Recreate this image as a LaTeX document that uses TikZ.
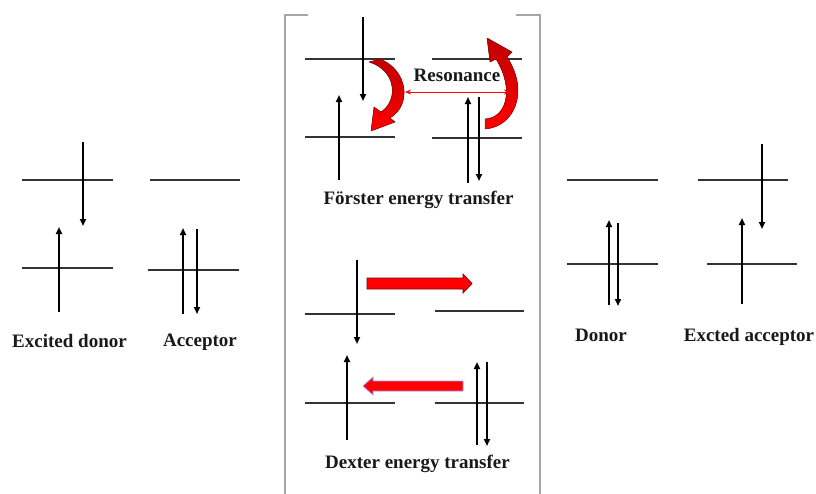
\documentclass[tikz,border=0pt]{standalone}
\usepackage{fontspec}
\setmainfont{Liberation Serif}
\usetikzlibrary{arrows.meta}
\begin{document}
\begin{tikzpicture}[x=1pt,y=-1pt,
  level/.style={line width=1.8pt,draw=black!80},
  elec/.style={line width=1.8pt,draw=black,-{Triangle[length=7pt,width=6pt]}},
  lbl/.style={font=\fontsize{19}{22}\selectfont\bfseries,anchor=base,inner sep=0pt,text=black!90},
  frame/.style={line width=2pt,draw=black!35},
  curvy/.style={top color=red!75!black,bottom color=red,draw=red!55!black,line width=0.4pt},
  blockarrow/.style={fill=red,line width=0.7pt,line join=miter}]
\useasboundingbox (0,0) rectangle (816,493);

% frame of the middle panel
\draw[frame] (308,15) -- (285,15) -- (285,495);
\draw[frame] (516,15) -- (540,15) -- (540,495);

% ---- Excited donor
\draw[level] (22,180) -- (113,180);
\draw[level] (22,268) -- (113,268);
\draw[elec] (83,142) -- (83,226);
\draw[elec] (59,312) -- (59,227);
% ---- Acceptor
\draw[level] (150,180) -- (240,180);
\draw[level] (148,270) -- (239,270);
\draw[elec] (183,314) -- (183,228);
\draw[elec] (197,229) -- (197,314);

% ---- Foerster left
\draw[level] (305,59) -- (395,59);
\draw[level] (305,137) -- (395,137);
\draw[elec] (363,17) -- (363,101);
\draw[elec] (339,180) -- (339,95);
% ---- Foerster right
\draw[level] (432,59) -- (522,59);
\draw[level] (432,138) -- (522,138);
\draw[elec] (468,183) -- (468,97);
\draw[elec] (479,97) -- (479,181);

% curved red arrows
\fill[curvy] (380,59) .. controls (408,70) and (412,105) .. (390,118)
  -- (395,122) -- (371,131) -- (374,107) -- (381,112)
  .. controls (399,100) and (396,70) .. (369,62) -- cycle;
\fill[curvy] (485,129) .. controls (514,127) and (530,92) .. (507,57)
  -- (512,52) -- (487,38) -- (490,62) -- (496,59)
  .. controls (515,90) and (506,118) .. (485,119) -- cycle;

% resonance arrow
\coordinate (rl) at (405,92);
\coordinate (rr) at (510,92);
\draw[red,line width=1pt,{Stealth[length=6pt,width=5pt]}-{Stealth[length=6pt,width=5pt]}] (rl) -- (rr);

% ---- Dexter left
\draw[level] (305,314) -- (395,314);
\draw[level] (305,403) -- (395,403);
\draw[elec] (357,260) -- (357,344);
\draw[elec] (347,440) -- (347,355);
% ---- Dexter right
\draw[level] (435,311) -- (524,311);
\draw[level] (435,403) -- (524,403);
\draw[elec] (477,445) -- (477,362);
\draw[elec] (487,362) -- (487,446);

% block arrows
\filldraw[blockarrow,draw=red!50!black] (367,278) -- (463,278) -- (463,274) -- (472,283.5)
  -- (463,293) -- (463,289) -- (367,289) -- cycle;
\filldraw[blockarrow,draw=blue!40] (463,381) -- (373,381) -- (373,377) -- (363,386)
  -- (373,395) -- (373,391) -- (463,391) -- cycle;

% ---- Donor
\draw[level] (567,180) -- (658,180);
\draw[level] (567,264) -- (658,264);
\draw[elec] (609,305) -- (609,220);
\draw[elec] (618,223) -- (618,306);
% ---- Excited acceptor
\draw[level] (698,180) -- (788,180);
\draw[level] (707,264) -- (797,264);
\draw[elec] (762,144) -- (762,229);
\draw[elec] (742,304) -- (742,218);

% labels
\node[lbl] (t1) at (69.5,347) {Excited donor};
\node[lbl] (t2) at (200,346) {Acceptor};
\node[lbl] (t3) at (601,341) {Donor};
\node[lbl] (t4) at (749,341) {Excted acceptor};
\node[lbl] (t5) at (457,81) {Resonance};
\node[lbl] (t6) at (418.5,204) {Förster energy transfer};
\node[lbl] (t7) at (417.5,468) {Dexter energy transfer};
\end{tikzpicture}
\end{document}
